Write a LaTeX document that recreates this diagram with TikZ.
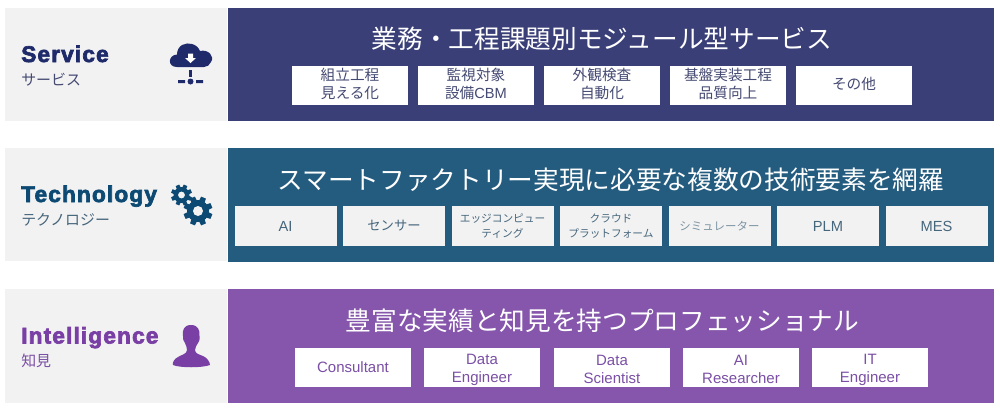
\documentclass[tikz,border=0pt]{standalone}
\usepackage{fontspec}
\setmainfont{Liberation Sans}
\newfontfamily\jp{Noto Sans CJK JP}
\newfontfamily\heavy[FakeBold=3,LetterSpace=5]{Liberation Sans Bold}
\definecolor{panelgray}{HTML}{F2F2F2}
\definecolor{bandA}{HTML}{3A3F78}
\definecolor{bandB}{HTML}{245C7F}
\definecolor{bandC}{HTML}{8556AB}
\definecolor{headA}{HTML}{1F2A6B}
\definecolor{headB}{HTML}{0D4A73}
\definecolor{headC}{HTML}{7A3FA5}
\definecolor{txtA}{HTML}{454A72}
\definecolor{txtB}{HTML}{46667C}
\definecolor{txtC}{HTML}{7A4FA5}
\newcommand{\liftup}{\rule[-3.5pt]{0pt}{1pt}}
\tikzset{
  panel/.style={fill=panelgray,draw=none,inner sep=0pt,minimum width=166.5pt,minimum height=85pt},
  band/.style={draw=none,inner sep=0pt,minimum width=574.5pt,minimum height=85pt},
  title/.style={text=white,inner sep=0pt,font=\jp\fontsize{19.25}{22}\selectfont},
  head/.style={anchor=base west,inner sep=0pt,font=\heavy\fontsize{17}{20}\selectfont},
  sub/.style={anchor=west,inner sep=0pt,font=\jp\fontsize{11.2}{13}\selectfont},
  boxA/.style={fill=white,text=txtA,inner sep=0pt,align=center,minimum width=87pt,minimum height=29.5pt,font=\jp\fontsize{11}{13.5}\selectfont},
  boxB/.style={fill=panelgray,text=txtB,inner sep=0pt,align=center,minimum width=76.5pt,minimum height=30pt,font=\jp\fontsize{10}{13}\selectfont},
  boxS/.style={boxB,font=\jp\fontsize{8}{11}\selectfont},
  boxC/.style={fill=white,text=txtC,inner sep=0pt,align=center,minimum width=87pt,minimum height=29.5pt,font=\fontsize{11.25}{13.5}\selectfont},
}
\newcommand{\gearicon}[4]{% x, y, radius, hole
  \begin{scope}[shift={(#1,#2)}]
    \foreach \a in {0,45,...,315}
      \fill[headB,rotate=\a+22.5] (-0.24*#3,0) -- (-0.18*#3,-#3) -- (0.18*#3,-#3) -- (0.24*#3,0) -- cycle;
    \fill[headB] (0,0) circle[radius=0.76*#3];
    \fill[panelgray] (0,0) circle[radius=#4];
  \end{scope}}
\begin{document}
\begin{tikzpicture}[x=0.75pt,y=-0.75pt]
\useasboundingbox (0,0) rectangle (1000,408);
% panels
\node[panel] (pA) at (116,64.5) {};
\node[panel] (pB) at (116,204.5) {};
\node[panel] (pC) at (116,346) {};
\node[band,fill=bandA] (bA) at (611,64.5) {};
\node[band,fill=bandB] (bB) at (611,205) {};
\node[band,fill=bandC] (bC) at (611,346) {};
% titles
\node[title] (tA) at (602,39) {業務・工程課題別モジュール型サービス};
\node[title] (tB) at (611,180) {スマートファクトリー実現に必要な複数の技術要素を網羅};
\node[title] (tC) at (602.5,321) {豊富な実績と知見を持つプロフェッショナル};
% headings
\node[head,text=headA] (hA) at (21,62) {Service};
\node[sub,text=txtA] (sA) at (21,80) {サービス};
\node[head,text=headB] (hB) at (21,202) {Technology};
\node[sub,text=txtB] (sB) at (21,220) {テクノロジー};
\node[head,text=headC] (hC) at (21,343.5) {Intelligence};
\node[sub,text=txtC] (sC) at (21,361) {知見};
% row 1 boxes
\node[boxA] (a1) at (350,85.5) {組立工程\\見える化\liftup};
\node[boxA] (a2) at (476,85.5) {監視対象\\設備{\rmfamily\normalfont\fontsize{11}{13.5}\selectfont CBM}\liftup};
\node[boxA] (a3) at (602,85.5) {外観検査\\自動化\liftup};
\node[boxA] (a4) at (728,85.5) {基盤実装工程\\品質向上\liftup};
\node[boxA] (a5) at (854,85.5) {その他\liftup};
% row 2 boxes
\node[boxB,font=\fontsize{11}{13}\selectfont] (b1) at (285.5,226) {AI};
\node[boxB] (b2) at (394,226) {センサー};
\node[boxS] (b3) at (502.5,226) {エッジコンピュー\\ティング};
\node[boxS] (b4) at (611,226) {クラウド\\プラットフォーム};
\node[boxS,text=txtB!70!white,font=\jp\fontsize{8.6}{11}\selectfont] (b5) at (719.5,226) {シミュレーター};
\node[boxB,font=\fontsize{11}{13}\selectfont] (b6) at (828,226) {PLM};
\node[boxB,font=\fontsize{11}{13}\selectfont] (b7) at (936.5,226) {MES};
% row 3 boxes
\node[boxC] (c1) at (353,367.5) {Consultant};
\node[boxC] (c2) at (482,367.5) {\rule{0pt}{11pt}Data\\Engineer};
\node[boxC] (c3) at (612,367.5) {\rule{0pt}{11pt}Data\\Scientist};
\node[boxC] (c4) at (741,367.5) {\rule{0pt}{11pt}AI\\Researcher};
\node[boxC] (c5) at (870,367.5) {\rule{0pt}{11pt}IT\\Engineer};
% cloud icon
\fill[headA] (177,67) .. controls (167,67) and (168,55) .. (177,54.5)
  .. controls (177,45) and (186,42) .. (192,44) .. controls (196,45) and (199,48) .. (200,51)
  .. controls (208,49) and (215,56) .. (211,62) .. controls (210,65) and (207,67) .. (204,67) -- cycle;
\fill[white] (188,53.5) rectangle (193,58) (185,58) -- (196,58) -- (190.5,63) -- cycle;
\fill[headA] (189,70) rectangle (192,76.5);
\fill[headA] (190.5,81.5) circle[radius=3];
\fill[headA] (178,80) rectangle (185,83) (196,80) rectangle (203,83);
% gears
\gearicon{181.5}{195}{10.5}{3.4}
\gearicon{198}{211}{14.5}{5}
% person icon
\fill[headC] (191,325) .. controls (184,325) and (182,330) .. (183,336)
  .. controls (182.5,340) and (184.5,342) .. (185,343) .. controls (186,346) and (187,347) .. (187,350)
  .. controls (187,354) and (181,355) .. (178,357)
  .. controls (174,359) and (172,363) .. (173,365) .. controls (180,368) and (202,368) .. (210,365)
  .. controls (210,362) and (207,358) .. (204,356.5) .. controls (200,354.5) and (195,354) .. (195,350)
  .. controls (195,347) and (197,345) .. (198,343) .. controls (199,342) and (200,340) .. (199.5,336)
  .. controls (200,330) and (198,325) .. (191,325) -- cycle;
\end{tikzpicture}
\end{document}
